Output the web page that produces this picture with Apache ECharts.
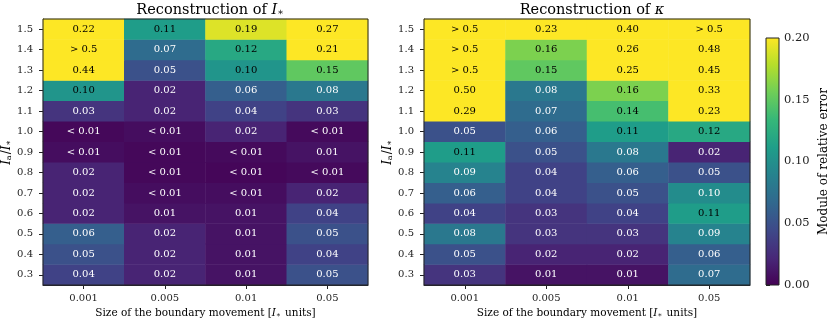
<!DOCTYPE html>
<html lang="en">
<head>
  <meta charset="UTF-8">
  <title>Reconstruction error heatmaps</title>
  <style>
    html, body { margin: 0; padding: 0; background: #fff; }
    #root { width: 831px; height: 322px; }
  </style>
</head>
<body>
  <div id="root"></div>
</body>
<script src="https://cdn.jsdelivr.net/npm/echarts@6/dist/echarts.min.js"></script>
<script>
  // columns: size of the boundary movement, rows: Ia/I* (bottom to top)
  const steps = ['0.001', '0.005', '0.01', '0.05']
  const ratios = ['0.3', '0.4', '0.5', '0.6', '0.7', '0.8', '0.9', '1.0', '1.1', '1.2', '1.3', '1.4', '1.5']
  const cbTicks = [0, 0.05, 0.1, 0.15, 0.2]

  // values above 0.5 are shown as "> 0.5", below 0.01 as "< 0.01"
  const errIstar = [
    [0.04, 0.02, 0.01, 0.05],
    [0.05, 0.02, 0.01, 0.04],
    [0.06, 0.02, 0.01, 0.05],
    [0.02, 0.01, 0.01, 0.04],
    [0.02, 0.007, 0.007, 0.02],
    [0.02, 0.004, 0.003, 0.005],
    [0.007, 0.004, 0.005, 0.01],
    [0.004, 0.007, 0.02, 0.005],
    [0.03, 0.02, 0.04, 0.03],
    [0.104, 0.02, 0.06, 0.08],
    [0.44, 0.05, 0.104, 0.15],
    [0.6, 0.07, 0.12, 0.21],
    [0.22, 0.11, 0.19, 0.27]
  ]
  const errKappa = [
    [0.03, 0.01, 0.01, 0.07],
    [0.05, 0.02, 0.02, 0.06],
    [0.08, 0.03, 0.03, 0.09],
    [0.04, 0.03, 0.04, 0.11],
    [0.06, 0.04, 0.05, 0.097],
    [0.09, 0.04, 0.06, 0.05],
    [0.11, 0.05, 0.08, 0.02],
    [0.05, 0.06, 0.11, 0.12],
    [0.29, 0.07, 0.14, 0.23],
    [0.50, 0.08, 0.16, 0.33],
    [0.6, 0.15, 0.25, 0.45],
    [0.6, 0.16, 0.26, 0.48],
    [0.6, 0.23, 0.40, 0.6]
  ]

  const viridis = ['#440154', '#482878', '#3e4989', '#31688e', '#26828e',
    '#1f9e89', '#35b779', '#6ece58', '#b5de2b', '#fde725']
  const FONT = 'DejaVu Serif'

  function cells(rows) {
    const out = []
    rows.forEach((row, y) => {
      row.forEach((v, x) => {
        out.push({ value: [x, y, v], label: { color: v >= 0.1 ? '#000' : '#fff' } })
      })
    })
    return out
  }

  function fmt(v) {
    if (v > 0.5) return '> 0.5'
    if (v < 0.01) return '< 0.01'
    return v.toFixed(2)
  }

  const rich = {
    n: { fontFamily: FONT, fontSize: 10.5, color: '#000' },
    i: { fontFamily: FONT, fontSize: 10.5, fontStyle: 'italic', color: '#000' },
    s: { fontFamily: FONT, fontSize: 7, color: '#000', verticalAlign: 'bottom', padding: [0, 1, 0, 0] },
    yi: { fontFamily: FONT, fontSize: 12, fontStyle: 'italic', color: '#000' },
    yn: { fontFamily: FONT, fontSize: 12, color: '#000' },
    ys: { fontFamily: FONT, fontSize: 8, color: '#000', verticalAlign: 'bottom', padding: [0, 1, 0, 0] },
    tn: { fontFamily: FONT, fontSize: 14.5, fontWeight: 'normal', color: '#000' },
    ti: { fontFamily: FONT, fontSize: 14.5, fontWeight: 'normal', fontStyle: 'italic', color: '#000' },
    ts: { fontFamily: FONT, fontSize: 9.5, fontWeight: 'normal', color: '#000', verticalAlign: 'bottom' }
  }

  const grids = [
    { left: 43, top: 19, width: 325, height: 266, outerBoundsMode: 'none' },
    { left: 424, top: 19, width: 326, height: 266, outerBoundsMode: 'none' },
    { left: 766, top: 38, width: 13, height: 247, outerBoundsMode: 'none' }
  ]

  const axisLine = { show: true, lineStyle: { color: '#222', width: 1 } }
  const tick = { show: true, alignWithLabel: true, interval: 0, length: 4, lineStyle: { color: '#222', width: 1 } }

  function xAx(i) {
    return {
      type: 'category', gridIndex: i, data: steps,
      axisLine: axisLine, axisTick: tick,
      axisLabel: { fontFamily: FONT, fontSize: 10, color: '#222', margin: 8, interval: 0 },
      splitArea: { show: false },
      name: '{n|Size of the boundary movement [}{i|I}{s|∗}{n| units]}',
      nameLocation: 'middle', nameGap: 21,
      nameTextStyle: { rich: rich }
    }
  }
  function yAx(i) {
    return {
      type: 'category', gridIndex: i, data: ratios,
      axisLine: axisLine, axisTick: tick,
      axisLabel: { fontFamily: FONT, fontSize: 10, color: '#222', margin: 10, interval: 0 },
      name: '{yi|I}{ys|a}{yn|/}{yi|I}{ys|∗}',
      nameLocation: 'middle', nameGap: 30, nameRotate: 90,
      nameTextStyle: { rich: rich }
    }
  }

  function heat(i, rows) {
    return {
      type: 'heatmap', xAxisIndex: i, yAxisIndex: i,
      data: cells(rows),
      itemStyle: { borderWidth: 0 },
      label: { show: true, fontFamily: FONT, fontSize: 10, formatter: p => fmt(p.value[2]) },
      emphasis: { disabled: true }
    }
  }

  function frame(g) {
    return {
      type: 'rect', z: 100, silent: true,
      shape: { x: g.left, y: g.top, width: g.width, height: g.height },
      style: { fill: null, stroke: '#222', lineWidth: 1 }
    }
  }

  const cb = grids[2]
  const stops = viridis.map((c, k) => ({ offset: k / (viridis.length - 1), color: c }))

  const option = {
    animation: false,
    title: [
      { text: '{tn|Reconstruction of }{ti|I}{ts|∗}', left: 205, top: -2, textAlign: 'center', textStyle: { rich: rich } },
      { text: '{tn|Reconstruction of }{ti|κ}', left: 587, top: -2, textAlign: 'center', textStyle: { rich: rich } }
    ],
    grid: grids,
    xAxis: [xAx(0), xAx(1), {
      type: 'value', gridIndex: 2, show: false, min: 0, max: 1
    }],
    yAxis: [yAx(0), yAx(1), {
      type: 'value', gridIndex: 2, position: 'right',
      min: cbTicks[0], max: cbTicks[cbTicks.length - 1], interval: 0.05,
      axisLine: { show: false },
      splitLine: { show: false },
      axisTick: { show: true, length: 4, lineStyle: { color: '#222' } },
      axisLabel: { fontFamily: FONT, fontSize: 11.5, color: '#222', margin: 5, formatter: v => v.toFixed(2) },
      name: 'Module of relative error', nameLocation: 'middle', nameGap: 39, nameRotate: 90,
      nameTextStyle: { fontFamily: FONT, fontSize: 12, color: '#000' }
    }],
    visualMap: {
      show: false, type: 'continuous', min: 0, max: 0.2,
      seriesIndex: [0, 1], dimension: 2,
      inRange: { color: viridis }
    },
    graphic: [
      frame(grids[0]), frame(grids[1]),
      {
        type: 'rect', z: 90, silent: true,
        shape: { x: cb.left, y: cb.top, width: cb.width, height: cb.height },
        style: { fill: new echarts.graphic.LinearGradient(0, 1, 0, 0, stops), stroke: '#222', lineWidth: 1 }
      }
    ],
    series: [heat(0, errIstar), heat(1, errKappa)]
  }

  const myChart = echarts.init(document.getElementById('root'))
  myChart.setOption(option)
</script>
</html>
